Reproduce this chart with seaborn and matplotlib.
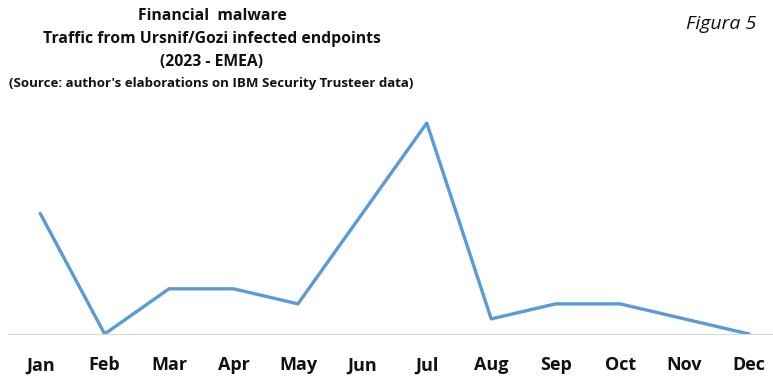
import numpy as np
import pandas as pd
import seaborn as sns
import matplotlib.pyplot as plt

months = ['Jan', 'Feb', 'Mar', 'Apr', 'May', 'Jun',
          'Jul', 'Aug', 'Sep', 'Oct', 'Nov', 'Dec']
traffic = [8, 0, 3, 3, 2, 8, 14, 1, 2, 2, 1, 0]

df = pd.DataFrame({'month': months, 'traffic': traffic})

sns.set_style("white")
plt.rcParams['font.family'] = ['Open Sans', 'DejaVu Sans']
plt.rcParams['text.color'] = '#111111'
plt.rcParams['xtick.color'] = '#111111'
plt.rcParams['xtick.labelcolor'] = '#111111'

fig = plt.figure(figsize=(7.73, 3.76), dpi=100)
# axes placed in pixel terms: left 8px, bottom baseline at y=334px
ax = fig.add_axes([8 / 773, 42 / 376, 765 / 773, 234 / 376])

sns.lineplot(data=df, x='month', y='traffic', sort=False, ax=ax,
             color='#5B9BD5', linewidth=2.4)

ax.set_xlim(-0.5, (773 - 40) / 64.45)
ax.set_ylim(0, 234 / 15.07)

for s in ['top', 'right', 'left']:
    ax.spines[s].set_visible(False)
ax.spines['bottom'].set_color('#d9d9d9')
ax.spines['bottom'].set_linewidth(0.8)

ax.set_yticks([])
ax.set_xlabel('')
ax.set_ylabel('')
ax.tick_params(axis='x', length=0, pad=16, labelsize=13, labelcolor='#111111')
for lbl in ax.get_xticklabels():
    lbl.set_fontweight('bold')

fig.text(212 / 773, 1 - 16 / 376, 'Financial  malware', ha='center', va='center',
         fontsize=11.3, fontweight='bold')
fig.text(212 / 773, 1 - 39 / 376, 'Traffic from Ursnif/Gozi infected endpoints',
         ha='center', va='center', fontsize=11.3, fontweight='bold')
fig.text(212 / 773, 1 - 62 / 376, '(2023 - EMEA)', ha='center', va='center',
         fontsize=11.3, fontweight='bold')
fig.text(211 / 773, 1 - 83 / 376,
         "(Source: author's elaborations on IBM Security Trusteer data)",
         ha='center', va='center', fontsize=9.5, fontweight='bold')
fig.text(721 / 773, 1 - 24 / 376, 'Figura 5', ha='center', va='center',
         fontsize=14, style='italic')

fig.savefig('out.png', dpi=100)
